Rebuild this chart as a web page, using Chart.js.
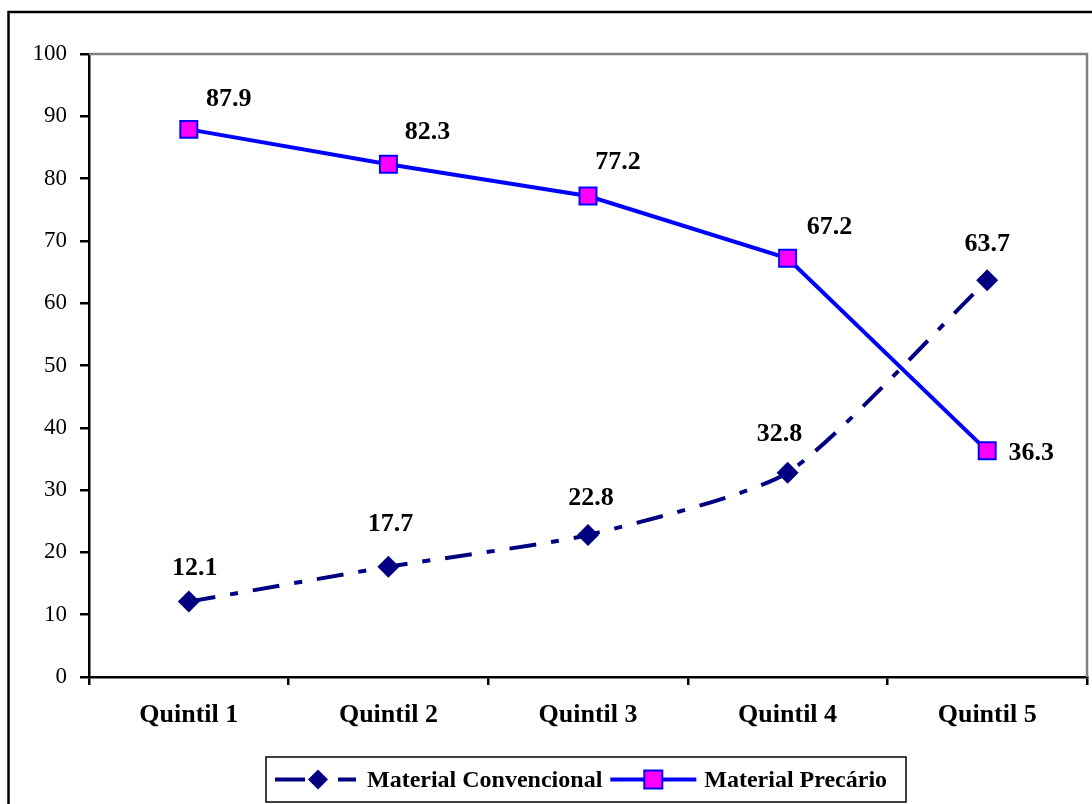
<!DOCTYPE html>
<html>
<head>
<meta charset="utf-8">
<script src="https://cdn.jsdelivr.net/npm/chart.js@4/dist/chart.umd.min.js"></script>
<style>
    html, body { margin: 0; padding: 0; background: #ffffff; }
    #chart { display: block; }
</style>
</head>
<body>
<canvas id="chart" width="1092" height="804"></canvas>
<script>
var categorias = ['Quintil 1', 'Quintil 2', 'Quintil 3', 'Quintil 4', 'Quintil 5'];
var convencional = [12.1, 17.7, 22.8, 32.8, 63.7];
var precario = [87.9, 82.3, 77.2, 67.2, 36.3];
var nomeConvencional = 'Material Convencional';
var nomePrecario = 'Material Precário';
var yMin = 0;
var yMax = 100;
var yPasso = 10;

var FONTE = '"Liberation Serif", "Times New Roman", serif';
var AZUL_ESCURO = '#000080';
var AZUL = '#0000ff';
var MAGENTA = '#ff00ff';

// deslocamento dos rótulos em relação ao ponto (como no Excel, arrastados à mão)
var offsetsConv = [[6, -33], [2, -42], [3, -37], [-8, -38], [0, -36]];
var offsetsPrec = [[40, -30], [39, -32], [30, -34], [42, -31], [44, 2]];

// bordas: moldura externa e contorno cinza da área do gráfico
var bordasPlugin = {
    id: 'bordas',
    beforeDraw: function(chart) {
        var ctx = chart.ctx;
        ctx.save();
        ctx.fillStyle = '#ffffff';
        ctx.fillRect(0, 0, chart.width, chart.height);
        ctx.strokeStyle = '#000000';
        ctx.lineWidth = 2.5;
        ctx.beginPath();
        ctx.moveTo(8.5, chart.height + 5);
        ctx.lineTo(8.5, 12);
        ctx.lineTo(chart.width + 5, 12);
        ctx.stroke();
        ctx.restore();
    },
    beforeDatasetsDraw: function(chart) {
        var a = chart.chartArea;
        var ctx = chart.ctx;
        ctx.save();
        ctx.strokeStyle = '#808080';
        ctx.lineWidth = 2.5;
        ctx.beginPath();
        ctx.moveTo(a.left, a.top);
        ctx.lineTo(a.right, a.top);
        ctx.lineTo(a.right, a.bottom);
        ctx.stroke();
        ctx.restore();
    }
};

// rótulos de valores
var rotulosPlugin = {
    id: 'rotulos',
    afterDatasetsDraw: function(chart) {
        var ctx = chart.ctx;
        ctx.save();
        ctx.font = 'bold 26px ' + FONTE;
        ctx.fillStyle = '#000000';
        ctx.textAlign = 'center';
        ctx.textBaseline = 'middle';
        for (var d = 0; d < chart.data.datasets.length; d++) {
            var ds = chart.data.datasets[d];
            var meta = chart.getDatasetMeta(d);
            var offs = d === 0 ? offsetsConv : offsetsPrec;
            for (var i = 0; i < meta.data.length; i++) {
                var p = meta.data[i];
                ctx.fillText(ds.data[i].toFixed(1), p.x + offs[i][0], p.y + offs[i][1]);
            }
        }
        ctx.restore();
    }
};

// legenda com amostra de linha + marcador (estilo Excel)
var legendaPlugin = {
    id: 'legendaExcel',
    afterDraw: function(chart) {
        var ctx = chart.ctx;
        var bx = 266, by = 757, bw = 640, bh = 45;
        var cy = by + bh / 2;
        ctx.save();
        ctx.strokeStyle = '#000000';
        ctx.lineWidth = 1.5;
        ctx.strokeRect(bx, by, bw, bh);

        ctx.font = 'bold 24px ' + FONTE;
        ctx.textBaseline = 'middle';
        ctx.fillStyle = '#000000';

        // item 1
        var x = bx + 9;
        ctx.strokeStyle = AZUL_ESCURO;
        ctx.lineWidth = 4;
        ctx.beginPath();
        ctx.moveTo(x, cy); ctx.lineTo(x + 30, cy);
        ctx.moveTo(x + 63, cy); ctx.lineTo(x + 81, cy);
        ctx.stroke();
        ctx.fillStyle = AZUL_ESCURO;
        ctx.beginPath();
        ctx.moveTo(x + 43 - 10, cy);
        ctx.lineTo(x + 43, cy - 10);
        ctx.lineTo(x + 43 + 10, cy);
        ctx.lineTo(x + 43, cy + 10);
        ctx.closePath();
        ctx.fill();
        ctx.fillStyle = '#000000';
        ctx.fillText(nomeConvencional, x + 92, cy + 1);

        // item 2
        x = x + 92 + ctx.measureText(nomeConvencional).width + 8;
        ctx.strokeStyle = AZUL;
        ctx.lineWidth = 4;
        ctx.beginPath();
        ctx.moveTo(x, cy); ctx.lineTo(x + 86, cy);
        ctx.stroke();
        ctx.fillStyle = MAGENTA;
        ctx.fillRect(x + 34, cy - 9, 18, 18);
        ctx.strokeStyle = AZUL;
        ctx.lineWidth = 2;
        ctx.strokeRect(x + 34, cy - 9, 18, 18);
        ctx.fillStyle = '#000000';
        ctx.fillText(nomePrecario, x + 94, cy + 1);
        ctx.restore();
    }
};

var ctx = document.getElementById('chart');
var grafico = new Chart(ctx, {
    type: 'line',
    data: {
        labels: categorias,
        datasets: [{
            label: nomeConvencional,
            data: convencional,
            borderColor: AZUL_ESCURO,
            borderWidth: 4,
            borderDash: [27, 15, 8, 15],
            borderCapStyle: 'butt',
            tension: 0.2,
            fill: false,
            pointStyle: 'rectRot',
            pointRadius: 11,
            pointHoverRadius: 11,
            pointBackgroundColor: AZUL_ESCURO,
            pointBorderColor: AZUL_ESCURO,
            pointBorderWidth: 0,
            order: 2
        }, {
            label: nomePrecario,
            data: precario,
            borderColor: AZUL,
            borderWidth: 4,
            tension: 0,
            fill: false,
            pointStyle: 'rect',
            pointRadius: 12,
            pointHoverRadius: 12,
            pointBackgroundColor: MAGENTA,
            pointBorderColor: AZUL,
            pointBorderWidth: 2,
            order: 1
        }]
    },
    options: {
        responsive: false,
        animation: false,
        devicePixelRatio: 1,
        layout: {
            autoPadding: false,
            padding: { top: 54, right: 5, left: 0, bottom: 0 }
        },
        plugins: {
            legend: { display: false },
            tooltip: { enabled: false }
        },
        scales: {
            x: {
                offset: true,
                grid: {
                    offset: true,
                    drawOnChartArea: false,
                    tickLength: 8,
                    color: '#000000',
                    lineWidth: 2.5
                },
                border: { display: true, color: '#000000', width: 2.5 },
                ticks: {
                    color: '#000000',
                    font: { family: FONTE, size: 26, weight: 'bold' },
                    padding: 15,
                    maxRotation: 0
                },
                afterFit: function(scale) {
                    scale.height = 127;
                    scale.paddingLeft = 0;
                    scale.paddingRight = 0;
                }
            },
            y: {
                min: yMin,
                max: yMax,
                grid: {
                    drawOnChartArea: false,
                    tickLength: 9,
                    color: '#000000',
                    lineWidth: 2.5
                },
                border: { display: true, color: '#000000', width: 2.5 },
                ticks: {
                    stepSize: yPasso,
                    color: '#000000',
                    font: { family: FONTE, size: 23 },
                    padding: 13
                },
                afterFit: function(scale) {
                    scale.width = 89;
                }
            }
        }
    },
    plugins: [bordasPlugin, rotulosPlugin, legendaPlugin]
});
</script>
</body>
</html>
